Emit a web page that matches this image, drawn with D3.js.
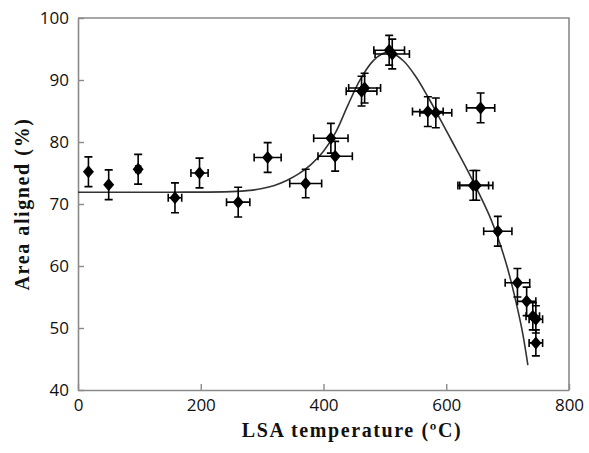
<!DOCTYPE html>
<html>
<head>
<meta charset="utf-8">
<script src="https://cdn.jsdelivr.net/npm/d3@7"></script>
<style>
  html, body { margin: 0; padding: 0; background: #fff; }
  svg { display: block; }
</style>
</head>
<body>
<svg id="chart" width="589" height="453"></svg>
<script>
// ---- data ----
const tempC   = [17, 50, 98, 158, 198, 261, 309, 371, 412, 419, 462, 467, 507, 512, 570, 583, 656, 644, 649, 684, 716, 731, 741, 746, 746];
const areaPct = [75.2, 73.1, 75.6, 71.0, 75.0, 70.3, 77.5, 73.3, 80.6, 77.7, 88.2, 88.7, 94.8, 94.2, 84.9, 84.7, 85.5, 73.0, 73.0, 65.6, 57.3, 54.3, 51.9, 51.4, 47.6];
const tempErr = [0, 0, 4, 11, 14, 19, 22, 26, 28, 28, 25, 26, 25, 28, 25, 26, 23, 25, 27, 23, 20, 15, 11, 11, 11];
const areaErr = [2.4, 2.4, 2.4, 2.4, 2.4, 2.4, 2.4, 2.3, 2.4, 2.4, 2.4, 2.4, 2.4, 2.4, 2.4, 2.4, 2.4, 2.4, 2.4, 2.4, 2.3, 2.3, 2.2, 2.2, 2.1];

// fitted curve samples
const fitT = [0, 150, 250, 280, 300, 320, 340, 360, 380, 400, 420, 440, 460, 480, 495, 508, 530, 550, 570, 590, 610, 630, 650, 670, 685, 700, 715, 725, 733];
const fitA = [71.9, 71.9, 72.0, 72.2, 72.5, 73.0, 73.8, 74.9, 76.4, 78.5, 81.6, 86.0, 90.1, 93.0, 94.2, 94.5, 93.1, 90.6, 87.3, 83.7, 80.0, 76.3, 72.4, 68.2, 64.3, 59.6, 53.6, 48.9, 44.0];

const xTicks = [0, 200, 400, 600, 800];
const yTicks = [40, 50, 60, 70, 80, 90, 100];
const xTitle = "LSA temperature (\u00BAC)";
const yTitle = "Area aligned (%)";

// ---- layout ----
const svg = d3.select("#chart");
const L = 78, R = 569, T = 18, B = 390;
const x = d3.scaleLinear().domain([0, 800]).range([L, R]);
const y = d3.scaleLinear().domain([40, 100]).range([B, T]);

const axisColor = "#8a8a8a";
const tickFont = "'Open Sans', sans-serif";

// frame (top and right)
svg.append("path")
  .attr("d", `M${L},${T}H${R}V${B}`)
  .attr("fill", "none").attr("stroke", axisColor).attr("stroke-width", 1.6);

// axes
const gx = svg.append("g").attr("transform", `translate(0,${B})`)
  .call(d3.axisBottom(x).tickValues(xTicks).tickSizeInner(-6).tickSizeOuter(0).tickPadding(9));
const gy = svg.append("g").attr("transform", `translate(${L},0)`)
  .call(d3.axisLeft(y).tickValues(yTicks).tickSizeInner(-6).tickSizeOuter(0).tickPadding(9));

[gx, gy].forEach(g => {
  g.select(".domain").attr("stroke", axisColor).attr("stroke-width", 1.6);
  g.selectAll(".tick line").attr("stroke", axisColor).attr("stroke-width", 1.4);
  g.selectAll(".tick text").attr("fill", "#111").style("font-family", tickFont).style("font-size", "17px");
});

// fitted curve
const pts = fitT.map((t, i) => [t, fitA[i]]);
svg.append("path")
  .datum(pts)
  .attr("fill", "none")
  .attr("stroke", "#333")
  .attr("stroke-width", 1.6)
  .attr("d", d3.line().x(d => x(d[0])).y(d => y(d[1])).curve(d3.curveCatmullRom.alpha(0.5)));

// data points with error bars
const data = tempC.map((t, i) => ({ t, a: areaPct[i], et: tempErr[i], ea: areaErr[i] }));
const cap = 4;
const g = svg.append("g").attr("stroke", "#000").attr("stroke-width", 1.6).attr("fill", "none");
data.forEach(d => {
  const cx = x(d.t), cy = y(d.a);
  const y1 = y(d.a + d.ea), y2 = y(d.a - d.ea);
  g.append("path").attr("d", `M${cx},${y1}V${y2}M${cx - cap},${y1}H${cx + cap}M${cx - cap},${y2}H${cx + cap}`);
  if (d.et > 0) {
    const x1 = x(d.t - d.et), x2 = x(d.t + d.et);
    g.append("path").attr("d", `M${x1},${cy}H${x2}M${x1},${cy - cap}V${cy + cap}M${x2},${cy - cap}V${cy + cap}`);
  }
});
svg.append("g").selectAll("path.mk").data(data).join("path")
  .attr("class", "mk")
  .attr("fill", "#000")
  .attr("d", d => {
    const cx = x(d.t), cy = y(d.a), w = 5.5, h = 6.5;
    return `M${cx},${cy - h}L${cx + w},${cy}L${cx},${cy + h}L${cx - w},${cy}Z`;
  });

// axis titles
svg.append("text")
  .attr("x", 352).attr("y", 437)
  .attr("text-anchor", "middle")
  .style("font-family", "'Liberation Serif', 'Times New Roman', serif")
  .style("font-weight", "bold").style("font-size", "20px").style("letter-spacing", "1.6px")
  .attr("fill", "#111")
  .text(xTitle);

svg.append("text")
  .attr("transform", `translate(29,${(T + B) / 2}) rotate(-90)`)
  .attr("text-anchor", "middle")
  .style("font-family", "'Liberation Serif', 'Times New Roman', serif")
  .style("font-weight", "bold").style("font-size", "20px").style("letter-spacing", "1.6px")
  .attr("fill", "#111")
  .text(yTitle);
</script>
</body>
</html>
